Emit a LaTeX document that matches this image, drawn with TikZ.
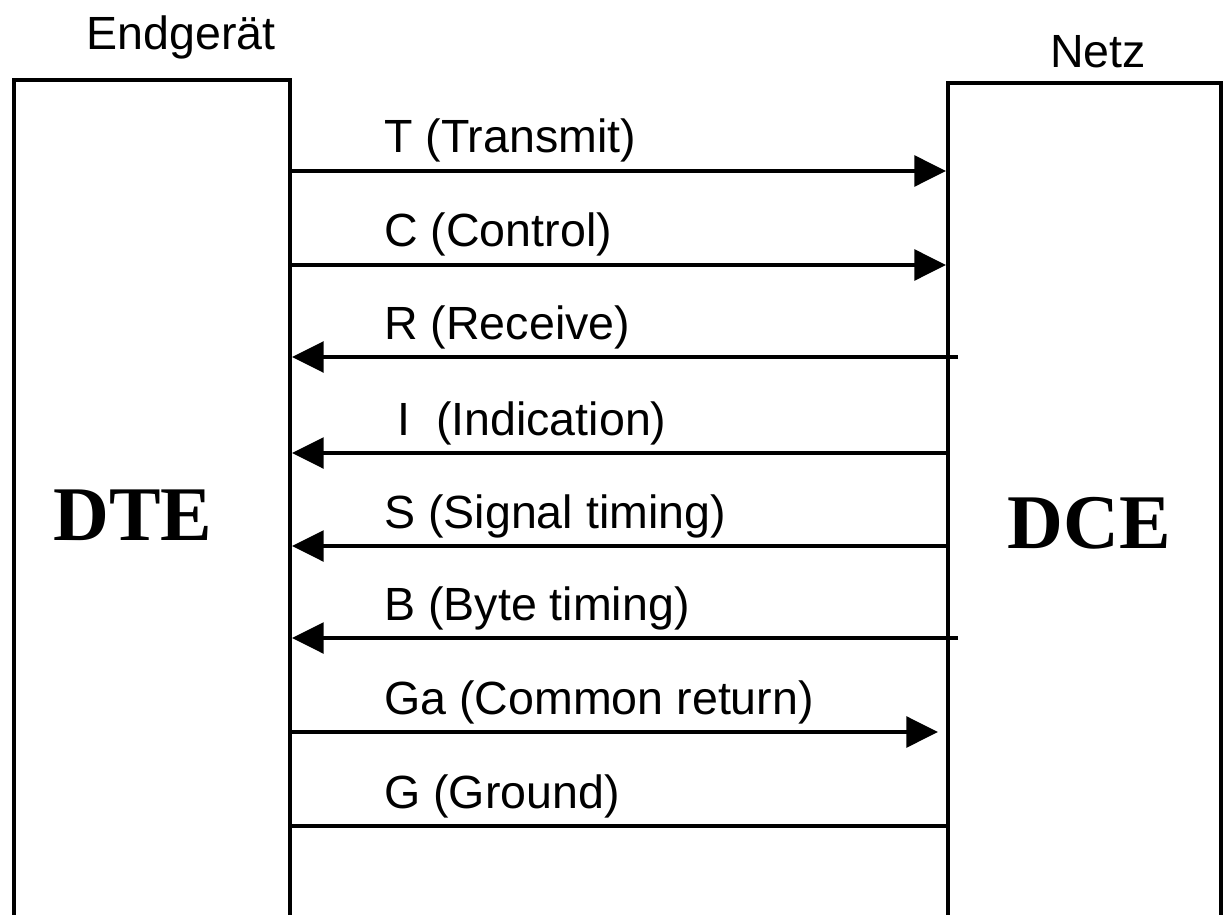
\documentclass[tikz,border=0pt]{standalone}
\usepackage{fontspec}
\setmainfont{Liberation Sans}
\newfontfamily\serifbold{Liberation Serif}
\usepackage{tikz}
\usetikzlibrary{arrows.meta}
\tikzstyle{box} = [draw=black, line width=2.8pt]
\tikzstyle{sig} = [draw=black, line width=1.9pt]
\tikzstyle{tip} = [-{Triangle[length=18pt,width=17.5pt]}]
\tikzstyle{lbl} = [anchor=base west, inner sep=0pt, font={\fontsize{26.5}{30}\selectfont}]
\tikzstyle{title} = [anchor=base, inner sep=0pt, font={\fontsize{26.5}{30}\selectfont}]
\tikzstyle{unit} = [anchor=base, inner sep=0pt, font={\serifbold\bfseries\fontsize{44}{50}\selectfont}]

\begin{document}
\begin{tikzpicture}[x=0.02cm,y=-0.02cm]
  \useasboundingbox (0,0) rectangle (1223,915);
  % the two boxes, open at the bottom
  \draw[box] (14,920) |- (290,80) -- (290,920);
  \draw[box] (948,920) |- (1221,83) -- (1221,920);
  \node[title](dteTitle) at (181,50){Endgerät};
  \node[title](dceTitle) at (1098,68){Netz};
  \node[unit](dte) at (133,540){DTE};
  \node[unit](dce) at (1089,548){DCE};
  % end points on the box edges
  \coordinate (dteT) at (290,171);
  \coordinate (dceT) at (946,171);
  \coordinate (dteC) at (290,265);
  \coordinate (dceC) at (946,265);
  \coordinate (dteR) at (292,357);
  \coordinate (dceR) at (958,357);
  \coordinate (dteI) at (292,453);
  \coordinate (dceI) at (947,453);
  \coordinate (dteS) at (292,546);
  \coordinate (dceS) at (947,546);
  \coordinate (dteB) at (292,638);
  \coordinate (dceB) at (958,638);
  \coordinate (dteGa) at (290,732);
  \coordinate (dceGa) at (938,732);
  \coordinate (dteG) at (290,826);
  \coordinate (dceG) at (947,826);
  % signal lines
  \draw[sig,tip](dteT)--(dceT);
  \draw[sig,tip](dteC)--(dceC);
  \draw[sig,tip](dceR)--(dteR);
  \draw[sig,tip](dceI)--(dteI);
  \draw[sig,tip](dceS)--(dteS);
  \draw[sig,tip](dceB)--(dteB);
  \draw[sig,tip](dteGa)--(dceGa);
  \draw[sig](dteG)--(dceG);
  \node[lbl](lblT) at (384,153){T (Transmit)};
  \node[lbl](lblC) at (384,247){C (Control)};
  \node[lbl](lblR) at (384,339){R (Receive)};
  \node[lbl](lblI) at (397,435){I\ \ (Indication)};
  \node[lbl](lblS) at (384,528){S (Signal timing)};
  \node[lbl](lblB) at (384,620){B (Byte timing)};
  \node[lbl](lblGa) at (384,714){Ga (Common return)};
  \node[lbl](lblG) at (384,808){G (Ground)};
\end{tikzpicture}
\end{document}
